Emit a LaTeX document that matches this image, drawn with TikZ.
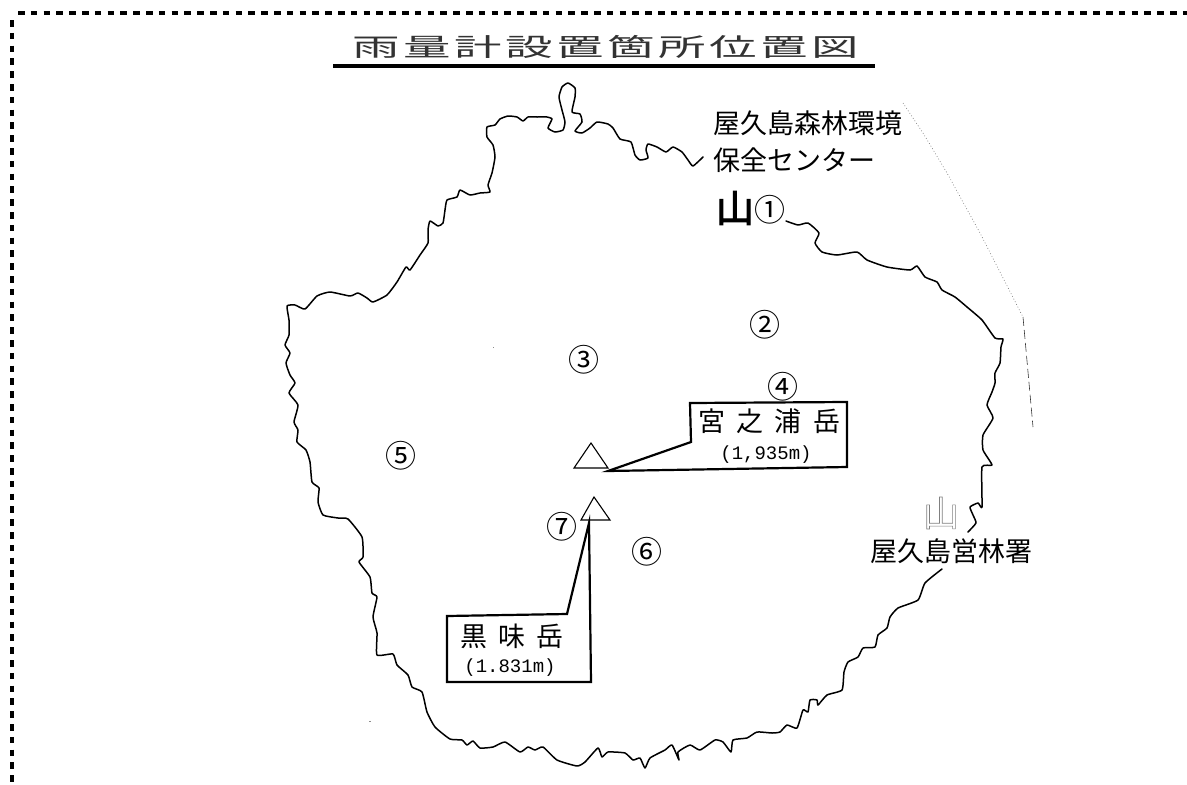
\documentclass[tikz,border=0pt]{standalone}
\usepackage{fontspec}
\setmainfont{Liberation Serif}
\newfontfamily\cjk{Noto Sans CJK JP}
\newfontfamily\cjkbold[FakeBold=3]{Noto Sans CJK JP}
\newfontfamily\cjktitle[FakeStretch=1.9,LetterSpace=14]{Noto Sans CJK JP}
\newfontfamily\cjkwide[LetterSpace=42]{Noto Sans CJK JP}
\newfontfamily\mono{Liberation Mono}
\tikzset{
  x=1pt,y=-1pt,
  lbl/.style={inner sep=0pt,outer sep=0pt,text=black,font=\cjk\fontsize{27}{27}\selectfont},
  wide/.style={inner sep=0pt,outer sep=0pt,text=black,font=\cjkwide\fontsize{27}{27}\selectfont},
  num/.style={inner sep=0pt,outer sep=0pt,text=black,font=\cjk\fontsize{31}{31}\selectfont},
  height/.style={inner sep=0pt,outer sep=0pt,text=black,font=\mono\fontsize{19}{19}\selectfont},
  coast/.style={line width=1.5pt,black,line join=round,line cap=round},
  callout/.style={line width=2.2pt,black,line join=miter},
  peak/.style={line width=1.1pt,black,line join=miter},
  border/.style={line width=4pt,black,dash pattern=on 6.6pt off 6.2pt},
  faint/.style={line width=.6pt,black!55},
}
\begin{document}
\begin{tikzpicture}
\useasboundingbox (0,0) rectangle (1187,785);
% page border
\coordinate (bTL) at (18,13); \coordinate (bTR) at (1187,13);
\coordinate (bLT) at (12,20); \coordinate (bLB) at (12,785);
\draw[border] (bTL) -- (bTR);
\draw[border] (bLT) -- (bLB);
% title
\node[inner sep=0pt,text=black!80,font=\cjktitle\fontsize{25}{25}\selectfont] (title) at (606,47) {雨量計設置箇所位置図};
\coordinate (ulL) at (333,66); \coordinate (ulR) at (875,66);
\draw[line width=4pt] (ulL) -- (ulR);
% coast, north-west to south-east
\draw[coast] plot[smooth,tension=.3] coordinates {
(703,157)(693,166)(688,160)(682,152)(673,147)(666,152)(657,147)(648,144)(646,150)(648,158)(640,160)(635,155)(631,142)(620,139)(613,128)(608,124)(597,122)(590,128)(582,133)(575,131)(582,122)(580,114)(572,112)(575,97)(575,88)(568,83)(562,87)(559,97)(562,110)(565,122)(563,130)(555,132)(548,128)(552,119)(547,117)(537,117)(528,117)(523,121)(517,117)(508,116)(500,119)(495,125)(487,127)(487,137)(493,145)(495,157)(492,173)(488,185)(490,192)(480,193)(470,195)(460,190)(457,197)(447,200)(445,210)(443,223)(438,226)(430,221)(428,230)(428,243)(420,255)(410,270)(406,267)(397,282)(387,295)(373,302)(367,298)(358,293)(350,296)(330,292)(317,296)(305,309)(295,305)(287,306)(289,320)(289,335)(285,345)(290,353)(286,363)(290,375)(295,383)(289,393)(298,405)(294,422)(298,430)(297,442)(306,450)(310,462)(312,482)(319,488)(318,502)(323,515)(338,518)(348,519)(362,537)(363,557)(359,562)(370,577)(372,593)(377,597)(373,617)(377,633)(377,655)(393,654)(397,665)(408,675)(412,687)(422,692)(427,712)(435,727)(450,739)(462,740)(467,745)(473,741)(480,748)(493,747)(505,742)(520,752)(528,747)(535,750)(543,747)(557,760)(577,766)(585,762)(598,748)(602,757)(608,752)(625,753)(633,760)(640,758)(645,768)(650,758)(665,750)(672,745)(679,760)(678,752)(690,745)(700,750)(715,740)(723,742)(731,752)(733,740)(747,738)(757,732)(772,733)(780,732)(787,725)(797,728)(803,710)(808,712)(810,700)(817,700)(818,705)(827,695)(842,690)(844,672)(848,662)(858,657)(863,648)(875,647)(878,635)(887,628)(890,617)(898,608)(918,600)(925,583)(942,569)};
% coast, east side
\draw[coast] plot[smooth,tension=.3] coordinates {
(968,532)(976,523)(973,515)(970,507)(978,503)(982,507)(982,467)(992,465)(983,450)(983,435)(993,418)(987,405)(992,392)(995,383)(995,373)(1000,363)(1001,347)(1003,339)(995,338)(982,320)(967,307)(955,297)(942,290)(937,282)(925,277)(917,266)(910,270)(887,267)(867,260)(857,252)(837,255)(822,252)(815,243)(819,233)(808,223)(798,225)(786,221)};
% faint boundary
\coordinate (f1) at (903,103); \coordinate (f2) at (923,133); \coordinate (f3) at (947,173);
\coordinate (f4) at (980,233); \coordinate (f5) at (1023,317); \coordinate (f6) at (1033,427);
\draw[faint,dash pattern=on .8pt off 2.2pt] (f1) -- (f2) -- (f3) -- (f4) -- (f5);
\draw[faint,black!80,dash pattern=on 9pt off 4pt] (f5) -- (f6);
% specks
\fill[black!45] (492.5,346.5) rectangle (494,347.5);
\fill[black!45] (369,720.5) rectangle (371,721.5);
% peaks
\coordinate (ta) at (591,443); \coordinate (tb) at (574,468); \coordinate (tc) at (608,468);
\draw[peak] (ta) -- (tb) -- (tc) -- cycle;
\coordinate (ua) at (594,497); \coordinate (ub) at (581,520); \coordinate (uc) at (610,520);
\draw[peak] (ua) -- (ub) -- (uc) -- cycle;
% callouts
\coordinate (m1) at (608,471); \coordinate (m2) at (691,442); \coordinate (m3) at (690,403);
\coordinate (m4) at (847,402); \coordinate (m5) at (847,467);
\draw[callout] (m1) -- (m2) -- (m3) -- (m4) -- (m5) -- cycle;
\coordinate (k1) at (589,523); \coordinate (k2) at (567,614); \coordinate (k3) at (447,616);
\coordinate (k4) at (447,682); \coordinate (k5) at (591,682);
\draw[callout] (k1) -- (k2) -- (k3) -- (k4) -- (k5) -- cycle;
\node[wide,anchor=west] (miya) at (698,421) {宮之浦岳};
\node[height] (miyah) at (766,455) {(1,935m)};
\node[wide,anchor=west] (kuro) at (460,636) {黒味岳};
\node[height] (kuroh) at (510,668) {(1.831m)};
% place labels
\node[lbl,anchor=west] (c1) at (713,123) {屋久島森林環境};
\node[lbl,anchor=west] (c2) at (713,160) {保全センター};
\node[lbl] (eirin) at (951,551) {屋久島営林署};
\node[inner sep=0pt,text=black,font=\cjkbold\fontsize{38}{38}\selectfont] (yama1) at (735,208) {山};
\node[inner sep=0pt,text=black!45,font=\cjk\fontsize{36}{36}\selectfont] (yama2) at (941,513) {\special{pdf:code q 1 Tr 0.6 w 0.5 G}山\special{pdf:code Q}};
% gauge numbers
\node[num] (n1) at (770,210) {①};
\node[num] (n2) at (765,325) {②};
\node[num] (n3) at (584,360) {③};
\node[num] (n4) at (783,387) {④};
\node[num] (n5) at (401,456) {⑤};
\node[num] (n6) at (647,552) {⑥};
\node[num] (n7) at (562,527) {⑦};
\end{tikzpicture}
\end{document}
